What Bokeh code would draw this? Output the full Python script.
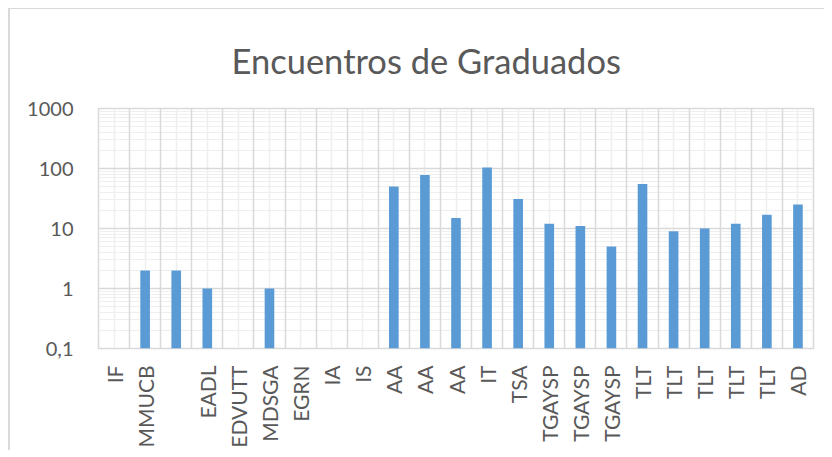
import math
from bokeh.plotting import figure
from bokeh.models import Range1d, FixedTicker, Grid, ColumnDataSource
from bokeh.embed import file_html
from bokeh.resources import INLINE

# ---- data ----
categories = ["IF", "MMUCB", "", "EADL", "EDVUTT", "MDSGA", "EGRN", "IA", "IS",
              "AA", "AA", "AA", "IT", "TSA", "TGAYSP", "TGAYSP", "TGAYSP",
              "TLT", "TLT", "TLT", "TLT", "TLT", "AD"]
values = [0, 2, 2, 1, 0, 1, 0, 0, 0,
          50, 78, 15, 104, 31, 12, 11, 5,
          55, 9, 10, 12, 17, 25]
y_ticks = [0.1, 1, 10, 100, 1000]
y_tick_labels = ["0,1", "1", "10", "100", "1000"]
title_text = "Encuentros de Graduados"

TEXT = "#595959"
FONT = "Lato"

n = len(categories)
xs = [i for i, v in enumerate(values) if v > 0]
tops = [v for v in values if v > 0]
src = ColumnDataSource(dict(x=xs, top=tops, bottom=[y_ticks[0]] * len(xs)))

p = figure(y_axis_type="log", x_range=Range1d(-0.5, n - 0.5),
           y_range=Range1d(y_ticks[0], y_ticks[-1]),
           frame_width=715, frame_height=240,
           min_border_left=88, min_border_right=11, min_border_top=99, min_border_bottom=101,
           output_backend="svg", toolbar_location=None, title=title_text)
p.styles = {"margin-left": "8px", "margin-top": "8px",
            "border-left": "2px solid #d9d9d9", "border-top": "1px solid #d9d9d9"}

p.title.align = "left"
p.title.offset = 133
p.title.text_font = FONT
p.title.text_font_size = "34.5px"
p.title.text_font_style = "normal"
p.title.text_color = TEXT
p.title.standoff = 55

p.vbar(x="x", top="top", bottom="bottom", width=0.31, source=src,
       fill_color="#5B9BD5", line_color=None)

# y axis
minor = [k * 10 ** d for d in range(-1, 3) for k in range(2, 10)]
p.yaxis.ticker = FixedTicker(ticks=y_ticks, minor_ticks=minor)
p.yaxis.major_label_overrides = {t: l for t, l in zip(y_ticks, y_tick_labels)}
p.yaxis.major_label_text_font = FONT
p.yaxis.major_label_text_font_size = "20px"
p.yaxis.major_label_text_color = TEXT
p.yaxis.major_label_standoff = 19
p.yaxis.axis_line_color = None
p.yaxis.major_tick_line_color = None
p.yaxis.minor_tick_line_color = None

# x axis
p.xaxis.ticker = FixedTicker(ticks=list(range(n)))
p.xaxis.major_label_overrides = {i: c for i, c in enumerate(categories)}
p.xaxis.major_label_orientation = math.pi / 2
p.xaxis.major_label_text_font = FONT
p.xaxis.major_label_text_font_size = "21px"
p.xaxis.major_label_text_color = TEXT
p.xaxis.major_label_standoff = 11
p.xaxis.axis_line_color = None
p.xaxis.major_tick_line_color = None
p.xaxis.minor_tick_line_color = None

# grids
p.ygrid.grid_line_color = "#d9d9d9"
p.ygrid.grid_line_width = 1.5
p.ygrid.minor_grid_line_color = "#efefef"
p.xgrid.grid_line_color = "#eeeeee"
p.xgrid.grid_line_width = 1.5
bgrid = Grid(dimension=0, ticker=FixedTicker(ticks=[i + 0.5 for i in range(n - 1)]),
             grid_line_color="#d9d9d9", grid_line_width=1.5)
p.add_layout(bgrid)
p.outline_line_color = "#d9d9d9"
p.outline_line_width = 1.5

open("out.html", "w").write(file_html(p, INLINE))
